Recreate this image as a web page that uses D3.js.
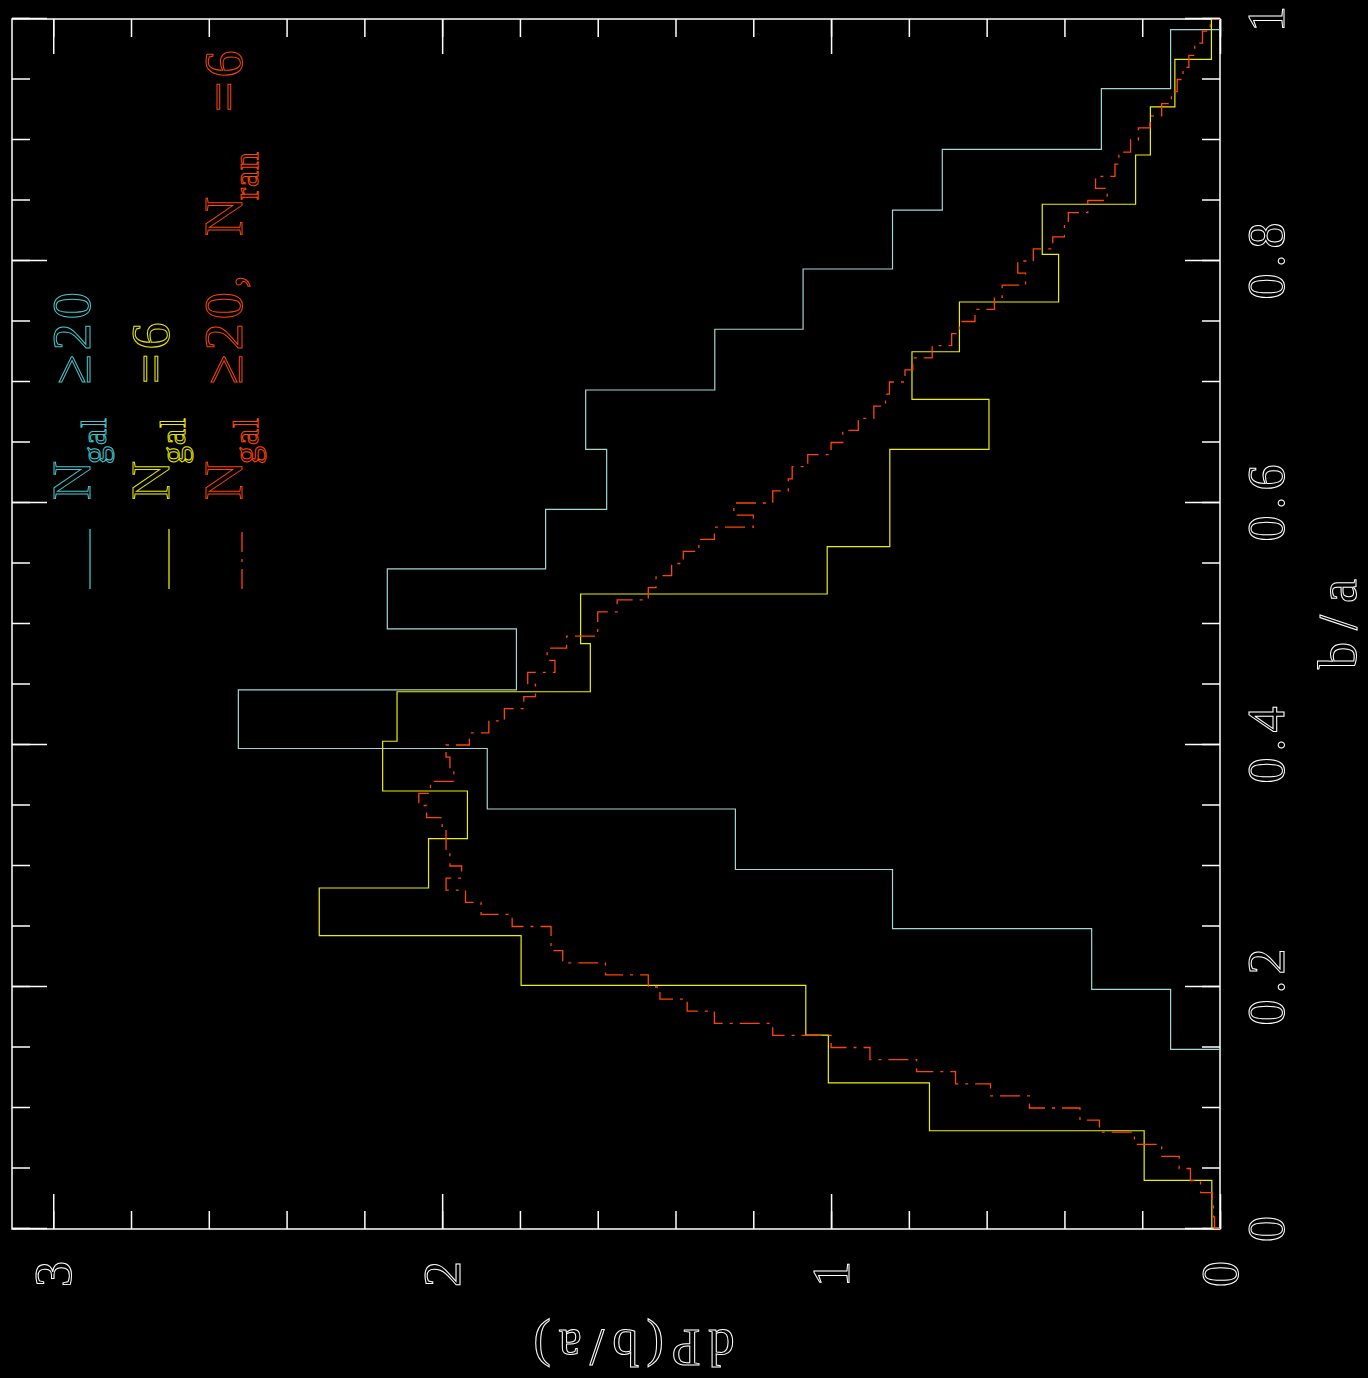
<!DOCTYPE html>
<html>
<head>
<meta charset="utf-8">
<script src="https://cdn.jsdelivr.net/npm/d3@7"></script>
<style>
  body { margin: 0; background: #000; }
  svg { display: block; }
  text { font-family: "Liberation Serif", "DejaVu Serif", serif; fill: none; stroke-width: 1; }
</style>
</head>
<body>
<svg></svg>
<script>
// b/a bin edges and dP(b/a) values
const cyanEdges = [0.1485, 0.1981, 0.2482, 0.2971, 0.3471, 0.3971, 0.4456, 0.4959, 0.5455,
  0.5947, 0.6443, 0.6934, 0.7436, 0.7934, 0.8421, 0.8923, 0.9424, 0.9912];
const cyanValues = [0.127, 0.330, 0.842, 1.246, 1.884, 2.524, 1.809, 2.141, 1.734,
  1.577, 1.631, 1.299, 1.072, 0.842, 0.714, 0.305, 0.127];

const yellowEdges = [0, 0.0402, 0.0812, 0.1207, 0.1603, 0.2014, 0.2424, 0.2818, 0.3226,
  0.3620, 0.4031, 0.4440, 0.4837, 0.5248, 0.5639, 0.6050, 0.6444, 0.6857, 0.7250,
  0.7661, 0.8055, 0.8469, 0.8876, 0.9273, 0.9667, 1.0075];
const yellowValues = [0.021, 0.195, 0.747, 1.007, 1.065, 1.797, 2.316, 2.035, 1.935,
  2.153, 2.116, 1.619, 1.644, 1.010, 0.849, 0.849, 0.594, 0.792, 0.670, 0.415, 0.457,
  0.217, 0.179, 0.116, 0.022];

// random catalogue, fine bins of 0.01 in b/a
const redBinWidth = 0.01;
const redValues = [
  0.014, 0.017, 0.020, 0.050, 0.076, 0.105, 0.150, 0.220, 0.310, 0.360,
  0.490, 0.590, 0.680, 0.780, 0.900, 1.000, 1.150, 1.300, 1.370, 1.440,
  1.470, 1.580, 1.690, 1.720, 1.720, 1.820, 1.900, 1.940, 1.990, 1.950,
  1.980, 1.990, 1.990, 2.000, 2.040, 2.060, 2.030, 1.970, 1.980, 1.990,
  1.930, 1.880, 1.840, 1.790, 1.760, 1.780, 1.710, 1.730, 1.680, 1.600,
  1.600, 1.550, 1.470, 1.450, 1.410, 1.380, 1.340, 1.300, 1.200, 1.250,
  1.150, 1.110, 1.100, 1.060, 1.000, 0.970, 0.930, 0.890, 0.860, 0.850,
  0.810, 0.790, 0.740, 0.690, 0.670, 0.630, 0.580, 0.560, 0.500, 0.520,
  0.480, 0.430, 0.400, 0.390, 0.340, 0.290, 0.320, 0.270, 0.260, 0.230,
  0.210, 0.180, 0.150, 0.125, 0.110, 0.095, 0.080, 0.065, 0.045, 0.025];

const baTicks = [0, 0.2, 0.4, 0.6, 0.8, 1];
const baTickLabels = ["0", "0.2", "0.4", "0.6", "0.8", "1"];
const dpTicks = [0, 1, 2, 3];
const dpTickLabels = ["0", "1", "2", "3"];

// legend pieces, subscripts are "gal" and "ran"
const legendParts = [
  ["N", "gal", "\u226520"],
  ["N", "gal", "=6"],
  ["N", "gal", "\u226520,", "N", "ran", "=6"]
];

let W = 1210, H = 1208;
let svg = d3.select("svg").attr("width", 1368).attr("height", 1378);
svg.append("rect").attr("width", 1368).attr("height", 1378).attr("fill", "#000");

// figure drawn upright, then turned a quarter turn anticlockwise
let g = svg.append("g").attr("transform", "translate(12,1229) rotate(-90)");

let x = d3.scaleLinear().domain([0, 1]).range([0, W]);
let y = d3.scaleLinear().domain([0, 3.106]).range([H, 0]);

g.append("clipPath").attr("id", "clip")
  .append("rect").attr("width", W).attr("height", H);

// ticks on all four sides, pointing inward
let axes = [
  [d3.axisBottom(x), "translate(0," + H + ")", x.ticks(20), 18],
  [d3.axisBottom(x), "translate(0," + H + ")", x.ticks(5), 35],
  [d3.axisTop(x), "translate(0,0)", x.ticks(20), 18],
  [d3.axisTop(x), "translate(0,0)", x.ticks(5), 35],
  [d3.axisLeft(y), "translate(0,0)", y.ticks(15), 18],
  [d3.axisLeft(y), "translate(0,0)", dpTicks, 35],
  [d3.axisRight(y), "translate(" + W + ",0)", y.ticks(15), 18],
  [d3.axisRight(y), "translate(" + W + ",0)", dpTicks, 35]
];
axes.forEach(a => {
  let ax = g.append("g").attr("transform", a[1])
    .call(a[0].tickValues(a[2]).tickSizeInner(-a[3]).tickSizeOuter(0).tickFormat(""));
  ax.select(".domain").remove();
  ax.selectAll(".tick line").attr("stroke", "#fff").attr("stroke-width", 1.5);
});

g.append("rect")
  .attr("width", W).attr("height", H)
  .attr("fill", "none").attr("stroke", "#fff").attr("stroke-width", 1.5);

// tick labels
g.selectAll(".balab").data(baTicks).enter().append("text")
  .attr("class", "balab")
  .attr("x", d => x(d) + 3)
  .attr("y", H + 64)
  .attr("text-anchor", "middle")
  .attr("stroke", "#fff")
  .style("font-size", "52px")
  .style("letter-spacing", "6px")
  .text((d, i) => baTickLabels[i]);

g.selectAll(".dplab").data(dpTicks).enter().append("text")
  .attr("class", "dplab")
  .attr("x", -32)
  .attr("y", d => y(d))
  .attr("dy", "0.34em")
  .attr("text-anchor", "end")
  .attr("stroke", "#fff")
  .style("font-size", "52px")
  .text((d, i) => dpTickLabels[i]);

// axis titles
g.append("text")
  .attr("x", x(0.5) + 6).attr("y", H + 136)
  .attr("text-anchor", "middle")
  .attr("stroke", "#fff")
  .style("font-size", "54px")
  .style("letter-spacing", "12px")
  .text("b/a");

g.append("text")
  .attr("transform", "translate(-101," + (y(1.553) + 14) + ") rotate(-90)")
  .attr("text-anchor", "middle")
  .attr("stroke", "#fff")
  .style("font-size", "52px")
  .style("letter-spacing", "8px")
  .text("dP(b/a)");

// histograms as step outlines
function steps(edges, vals) {
  let pts = [[edges[0], 0]];
  vals.forEach((v, i) => {
    pts.push([edges[i], v]);
    pts.push([edges[i + 1], v]);
  });
  pts.push([edges[edges.length - 1], 0]);
  return pts;
}
let line = d3.line().x(d => x(d[0])).y(d => y(d[1]));

let redEdges = redValues.map((v, i) => i * redBinWidth).concat([redValues.length * redBinWidth]);

let plot = g.append("g").attr("clip-path", "url(#clip)");
plot.append("path")
  .attr("d", line(steps(cyanEdges, cyanValues)))
  .attr("fill", "none").attr("stroke", "#9fd6cf").attr("stroke-width", 1.2);
plot.append("path")
  .attr("d", line(steps(yellowEdges, yellowValues)))
  .attr("fill", "none").attr("stroke", "#eeee00").attr("stroke-width", 1.2);
plot.append("path")
  .attr("d", line(steps(redEdges, redValues)))
  .attr("fill", "none").attr("stroke", "#ff4500").attr("stroke-width", 1.3)
  .attr("stroke-dasharray", "20,7,3,7");

// legend
let legendColors = ["#44c8d0", "#e8e800", "#ff4500"];
let rowBase = [78, 157, 230];
let partStart = [0, 36, 116, 264, 300, 388];
legendParts.forEach((parts, r) => {
  let ln = g.append("line")
    .attr("x1", 640).attr("x2", 700)
    .attr("y1", rowBase[r]).attr("y2", rowBase[r])
    .attr("stroke", legendColors[r]).attr("stroke-width", 1.3);
  if (r == 2) ln.attr("stroke-dasharray", "20,7,3,7");

  let t = g.append("text").attr("stroke", legendColors[r]);
  parts.forEach((p, i) => {
    let sub = (p == "gal" || p == "ran");
    t.append("tspan")
      .attr("x", 729 + partStart[i])
      .attr("y", rowBase[r] + (sub ? 16 : 0))
      .style("font-size", sub ? "36px" : "54px")
      .style("letter-spacing", sub ? "1px" : "4px")
      .text(p);
  });
});
</script>
</body>
</html>
